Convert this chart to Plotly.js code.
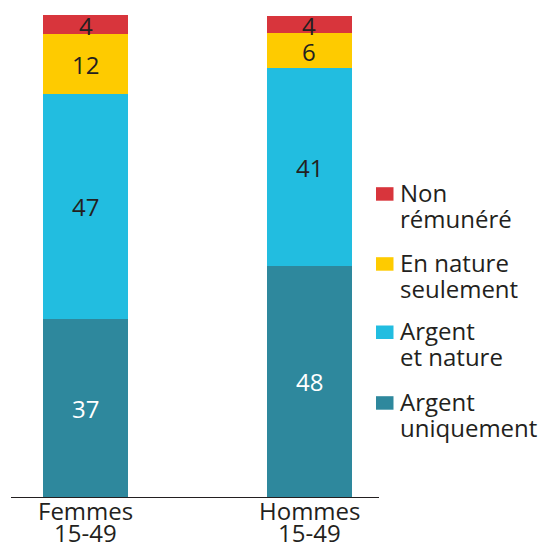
<!DOCTYPE html>
<html>
<head>
<meta charset="utf-8">
<script src="https://cdn.plot.ly/plotly-3.0.1.min.js"></script>
<style>html,body{margin:0;padding:0;background:#fff;}#chart{width:539px;height:549px;}</style>
</head>
<body>
<div id="chart"></div>
<script>
// ---- data ----
var categories = ["Femmes 15-49", "Hommes 15-49"];
var tickLine1 = ["Femmes", "Hommes"];
var tickLine2 = ["15-49", "15-49"];
var seriesNames = ["Argent uniquement", "Argent et nature", "En nature seulement", "Non rémunéré"];
var legendLine1 = ["Argent", "Argent", "En nature", "Non"];
var legendLine2 = ["uniquement", "et nature", "seulement", "rémunéré"];
var seriesColors = ["#2e889d", "#22bde0", "#fecb00", "#d8353c"];
var labelColors = ["#ffffff", "#231f20", "#231f20", "#231f20"];
// bar heights (percent) as drawn
var argentUniquement = [37, 48];
var argentEtNature = [46.6, 41];
var enNatureSeulement = [12.4, 7.2];
var nonRemunere = [4, 3.6];
// printed labels
var labelsArgentUniquement = ["37", "48"];
var labelsArgentEtNature = ["47", "41"];
var labelsEnNature = ["12", "6"];
var labelsNonRemunere = ["4", "4"];

var seriesValues = [argentUniquement, argentEtNature, enNatureSeulement, nonRemunere];
var seriesLabels = [labelsArgentUniquement, labelsArgentEtNature, labelsEnNature, labelsNonRemunere];

var FONT = "Open Sans, Noto Sans, sans-serif";
var DARK = "#231f20";
var PLOT_TOP = 15, PLOT_BOTTOM = 497, PLOT_LEFT = 11, PLOT_RIGHT = 379;
var PH = PLOT_BOTTOM - PLOT_TOP, PW = PLOT_RIGHT - PLOT_LEFT;

var traces = [];
var annotations = [];
var shapes = [];

for (var s = 0; s < seriesNames.length; s++) {
  traces.push({
    type: "bar",
    name: seriesNames[s],
    x: categories,
    y: seriesValues[s],
    width: 0.38,
    marker: {color: seriesColors[s], line: {width: 0}},
    hoverinfo: "none",
    showlegend: false
  });
}

// segment labels through data coordinates
for (var c = 0; c < categories.length; c++) {
  var base = 0;
  for (var s2 = 0; s2 < seriesNames.length; s2++) {
    var v = seriesValues[s2][c];
    annotations.push({
      x: categories[c], y: base + v / 2, xref: "x", yref: "y",
      text: seriesLabels[s2][c], showarrow: false,
      xanchor: "center", yanchor: "middle", height: 20, borderpad: 0,
      font: {family: FONT, size: 24, color: labelColors[s2]}
    });
    base += v;
  }
  // category labels (two lines)
  annotations.push({
    x: categories[c], y: 0, xref: "x", yref: "paper",
    text: tickLine1[c], showarrow: false, xanchor: "center", yanchor: "middle",
    height: 21, borderpad: 0,
    yshift: -(520 - 9.3 - PLOT_BOTTOM),
    font: {family: FONT, size: 24, color: DARK}
  });
  annotations.push({
    x: categories[c], y: 0, xref: "x", yref: "paper",
    text: tickLine2[c], showarrow: false, xanchor: "center", yanchor: "middle",
    height: 21, borderpad: 0,
    yshift: -(541.7 - 9.3 - PLOT_BOTTOM),
    font: {family: FONT, size: 24, color: DARK}
  });
}

// legend (top item = last series)
var legendBaselines = [201.7, 271.7, 340, 410.7];
for (var i = 0; i < seriesNames.length; i++) {
  var sIdx = seriesNames.length - 1 - i;
  var b1 = legendBaselines[i];
  var b2 = b1 + 26.3;
  shapes.push({
    type: "rect", xref: "paper", yref: "paper",
    x0: (376 - PLOT_LEFT) / PW, x1: (393.5 - PLOT_LEFT) / PW,
    y0: (PLOT_BOTTOM - (b1 - 1)) / PH, y1: (PLOT_BOTTOM - (b1 - 14.5)) / PH,
    fillcolor: seriesColors[sIdx], line: {width: 0}
  });
  annotations.push({
    x: (397.5 - PLOT_LEFT) / PW, y: (PLOT_BOTTOM - (b1 - 9.3)) / PH,
    xref: "paper", yref: "paper", text: legendLine1[sIdx], showarrow: false,
    xanchor: "left", yanchor: "middle",
    font: {family: FONT, size: 24, color: DARK}
  });
  annotations.push({
    x: (397.5 - PLOT_LEFT) / PW, y: (PLOT_BOTTOM - (b2 - 9.3)) / PH,
    xref: "paper", yref: "paper", text: legendLine2[sIdx], showarrow: false,
    xanchor: "left", yanchor: "middle",
    font: {family: FONT, size: 24, color: DARK}
  });
}

var layout = {
  width: 539, height: 549,
  margin: {l: PLOT_LEFT, r: 539 - PLOT_RIGHT, t: PLOT_TOP, b: 549 - PLOT_BOTTOM, pad: 0},
  paper_bgcolor: "#ffffff", plot_bgcolor: "#ffffff",
  barmode: "stack",
  showlegend: false,
  xaxis: {
    type: "category", range: [-0.3326, 1.3103],
    showline: true, linecolor: DARK, linewidth: 1.3,
    showticklabels: false, ticks: "", showgrid: false, zeroline: false, fixedrange: true
  },
  yaxis: {
    range: [0, 100], visible: false, showgrid: false, zeroline: false, fixedrange: true
  },
  annotations: annotations,
  shapes: shapes,
  font: {family: FONT, color: DARK}
};

Plotly.newPlot("chart", traces, layout, {displayModeBar: false, staticPlot: true});
</script>
</body>
</html>
